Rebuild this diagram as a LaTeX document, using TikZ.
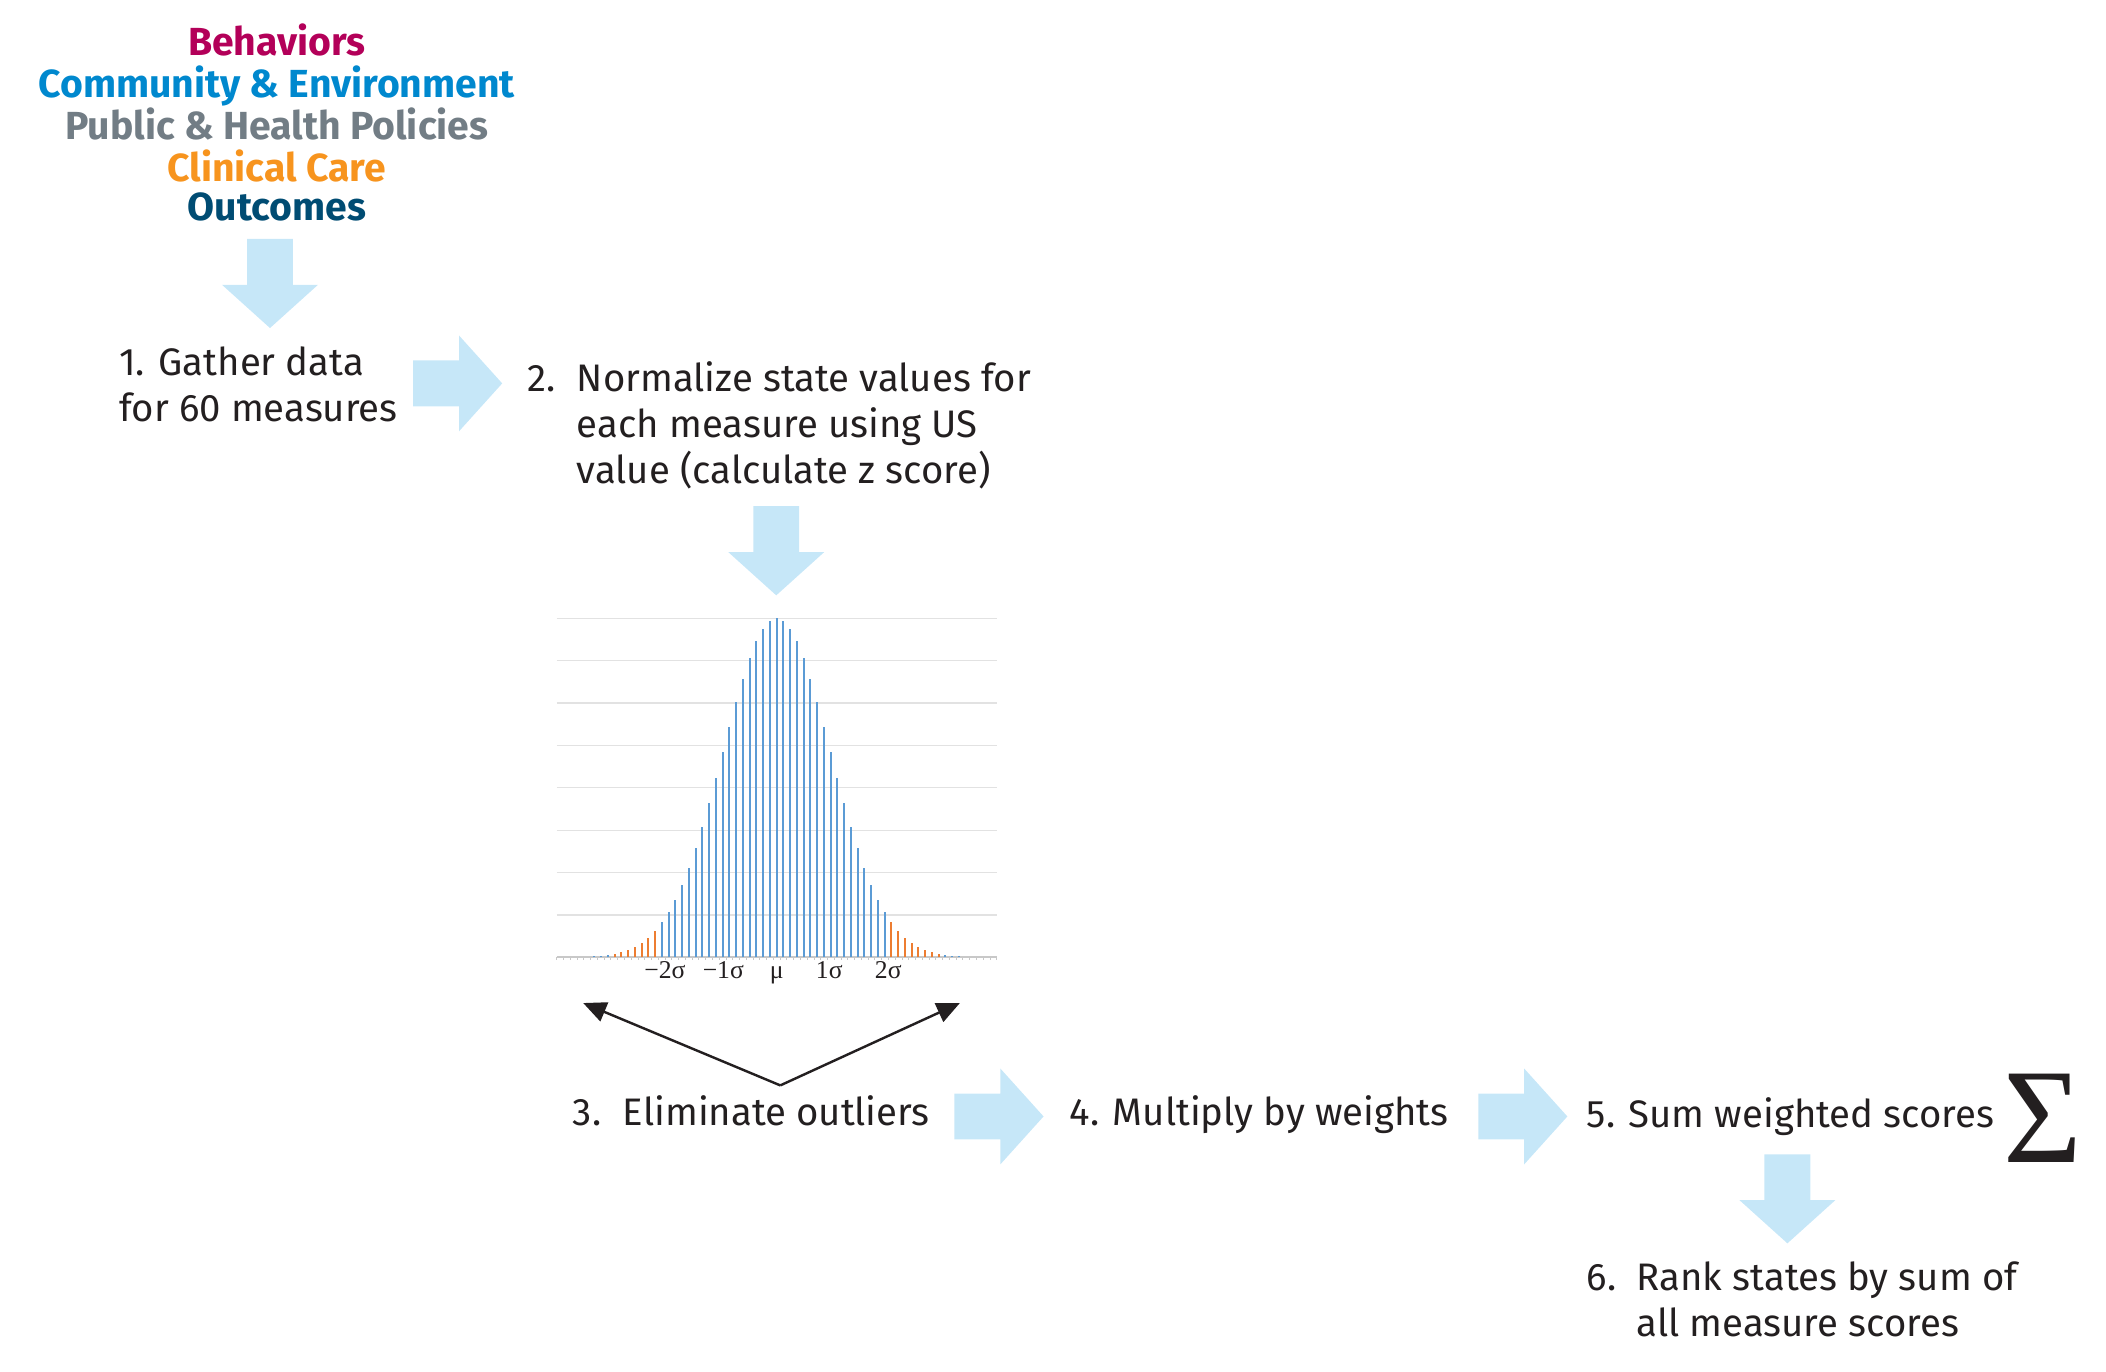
\documentclass[tikz,border=0pt]{standalone}
\usepackage{fontspec}
\setmainfont{Fira Sans}
\newfontfamily\greekserif{Liberation Serif}
\usetikzlibrary{arrows.meta}

\definecolor{inkblack}{RGB}{35,31,32}
\definecolor{behavcol}{RGB}{179,0,89}
\definecolor{commcol}{RGB}{0,136,206}
\definecolor{policycol}{RGB}{114,125,133}
\definecolor{carecol}{RGB}{247,148,30}
\definecolor{outcomecol}{RGB}{0,76,115}
\definecolor{flowblue}{RGB}{198,231,248}
\definecolor{barblue}{RGB}{91,155,213}
\definecolor{barorange}{RGB}{237,125,49}
\definecolor{gridgray}{RGB}{226,226,226}
\definecolor{axisgray}{RGB}{200,200,200}

\newcommand{\stepfont}{\fontsize{14.2}{17}\selectfont}
\newcommand{\numbered}[2]{\begin{tabular}[t]{@{}l@{}l@{}}\makebox[18.5pt][l]{#1}&#2\end{tabular}}
% light blue block arrow: tip x, tip y, rotation
\newcommand{\flowarrow}[3]{%
  \fill[flowblue, shift={(#1,#2)}, rotate=#3]
    (0,0) -- (-32,35.5) -- (-32,17) -- (-66,17) -- (-66,-17) -- (-32,-17) -- (-32,-35.5) -- cycle;}

\begin{document}
\begin{tikzpicture}[x=0.5pt, y=-0.5pt,
    steptext/.style={font=\stepfont, text=inkblack, inner sep=0pt, anchor=base west},
    heading/.style={font=\bfseries\fontsize{14.5}{15.3}\selectfont, inner sep=0pt, anchor=base},
    siglabel/.style={font=\greekserif\fontsize{9.5}{11}\selectfont, text=inkblack, inner sep=0pt, anchor=base},
    outlierarrow/.style={-{Triangle[length=8.5pt,width=7.5pt]}, line width=0.9pt, inkblack}]
    \useasboundingbox (0,0) rectangle (1560,1015.6);

    % Determinant groups
    \node[heading] (groups) at (205,41) {\begin{tabular}[t]{@{}c@{}}
        \textcolor{behavcol}{Behaviors}\\[-0.8pt]
        \textcolor{commcol}{Community \& Environment}\\[-0.8pt]
        \textcolor{policycol}{Public \& Health Policies}\\[-0.8pt]
        \textcolor{carecol}{Clinical Care}\\[-0.8pt]
        \textcolor{outcomecol}{Outcomes}\end{tabular}};

    % Steps
    \node[steptext] (gather) at (88,278) {\begin{tabular}[t]{@{}l@{}}1. Gather data\\for 60 measures\end{tabular}};
    \node[steptext] (normalize) at (390,290) {\numbered{2.}{Normalize state values for\\&each measure using US\\&value (calculate z score)}};
    \node[steptext] (outliers) at (424,834) {\numbered{3.}{Eliminate outliers}};
    \node[steptext] (weights) at (792,834) {4. Multiply by weights};
    \node[steptext] (sumscores) at (1175,835) {5. Sum weighted scores};
    \node[font=\greekserif\fontsize{50}{50}\selectfont, text=inkblack, inner sep=0pt, anchor=base west] (sigma) at (1484,861) {Σ};
    \node[steptext] (rank) at (1175,956) {\numbered{6.}{Rank states by sum of\\&all measure scores}};

    % Flow arrows
    \flowarrow{200}{243}{-90}
    \flowarrow{372}{284}{0}
    \flowarrow{575}{441}{-90}
    \flowarrow{773}{827}{0}
    \flowarrow{1161}{827}{0}
    \flowarrow{1324}{921}{-90}

    % Grid of the distribution
    \foreach \i in {0,...,7}
        \draw[gridgray, line width=0.5pt] (412.4,{458+31.39*\i}) -- (738.3,{458+31.39*\i});
    \draw[axisgray, line width=0.6pt] (412.4,709.1) -- (738.3,709.1);
    \foreach \i in {0,...,65}
        \draw[axisgray, line width=0.3pt] ({412.4+5.014*\i},709.1) -- ++(0,2.2);

    % Bars: blue body, orange outliers
    \foreach \k in {-27,...,-25,-17,-16,...,16,25,26,27}
        \draw[barblue, line width=0.8pt] ({575.3+5.0*\k},709.1) -- ++(0,{-251.1*exp(-((\k)^2)/127)});
    \foreach \k in {-24,...,-18,17,18,...,24}
        \draw[barorange, line width=0.8pt] ({575.3+5.0*\k},709.1) -- ++(0,{-251.1*exp(-((\k)^2)/127)});

    % Sigma labels
    \node[siglabel] (minustwo) at (492.6,725) {−2σ};
    \node[siglabel] (minusone) at (535.8,725) {−1σ};
    \node[siglabel] (mean) at (575.3,725) {μ};
    \node[siglabel] (plusone) at (614.3,725) {1σ};
    \node[siglabel] (plustwo) at (658,725) {2σ};

    % Outlier pointers
    \coordinate (fork) at (578,804);
    \coordinate (leftTail) at (432,743);
    \coordinate (rightTail) at (711,743);
    \draw[outlierarrow] (fork) -- (leftTail);
    \draw[outlierarrow] (fork) -- (rightTail);
\end{tikzpicture}
\end{document}
